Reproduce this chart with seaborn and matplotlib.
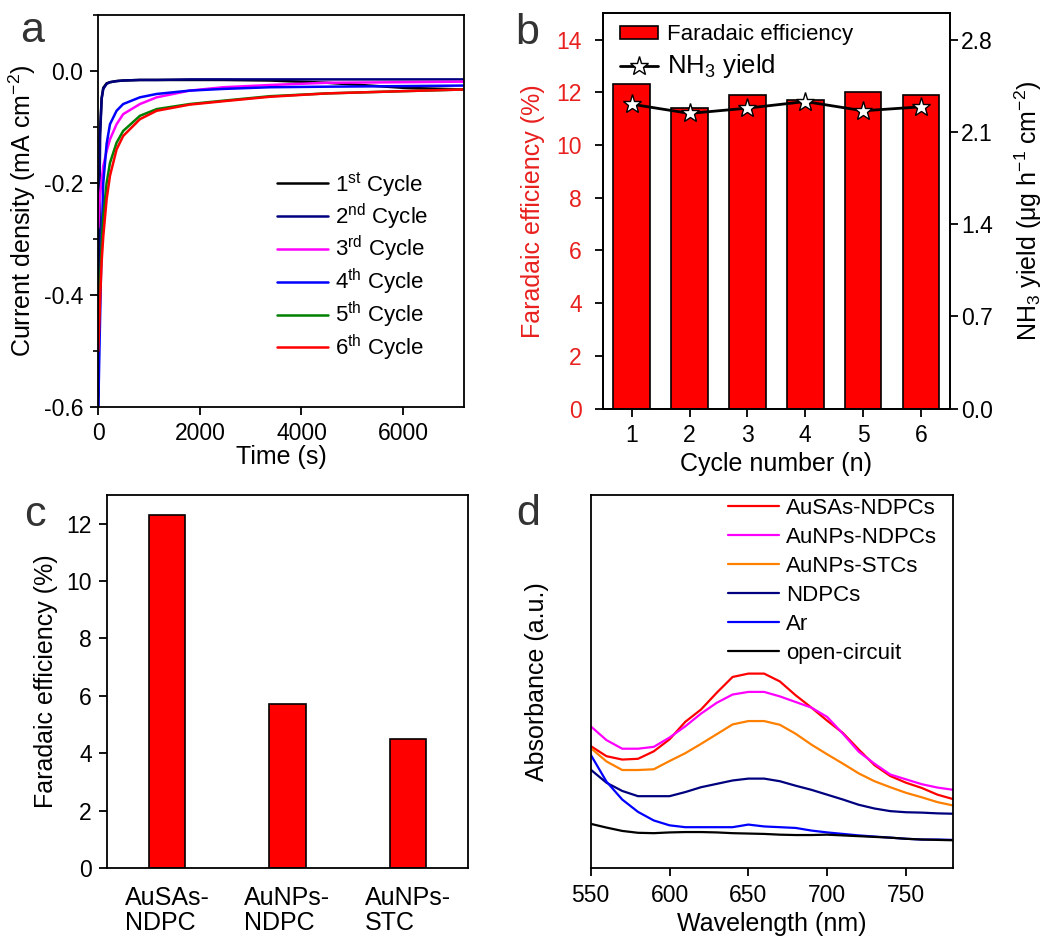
import matplotlib
matplotlib.use('Agg')
import matplotlib.pyplot as plt
import seaborn as sns
from matplotlib.ticker import MultipleLocator

# ---------------- data ----------------
# panel a: current density vs time for six cycles
time_s = [0, 33, 66, 98, 164, 230, 360, 490, 820, 1150, 1800, 2460, 3380, 4500, 6000, 7200]
j_cycle1 = [-0.58, -0.11, -0.048, -0.030, -0.022, -0.020, -0.018, -0.017, -0.016, -0.016, -0.016, -0.016, -0.017, -0.021, -0.030, -0.033]
j_cycle2 = [-0.60, -0.12, -0.050, -0.032, -0.023, -0.020, -0.018, -0.017, -0.016, -0.016, -0.015, -0.015, -0.015, -0.015, -0.015, -0.015]
j_cycle3 = [-0.28, -0.223, -0.195, -0.170, -0.143, -0.122, -0.095, -0.077, -0.059, -0.047, -0.035, -0.029, -0.025, -0.021, -0.020, -0.019]
j_cycle4 = [-0.60, -0.45, -0.30, -0.20, -0.13, -0.095, -0.071, -0.059, -0.047, -0.041, -0.035, -0.032, -0.029, -0.028, -0.027, -0.026]
j_cycle5 = [-0.47, -0.384, -0.31, -0.259, -0.200, -0.164, -0.128, -0.107, -0.080, -0.068, -0.059, -0.053, -0.045, -0.040, -0.036, -0.033]
j_cycle6 = [-0.50, -0.414, -0.34, -0.295, -0.229, -0.187, -0.140, -0.116, -0.086, -0.071, -0.060, -0.054, -0.046, -0.040, -0.036, -0.033]
cycle_labels = [r'1$^{\rm st}$ Cycle', r'2$^{\rm nd}$ Cycle', r'3$^{\rm rd}$ Cycle',
                r'4$^{\rm th}$ Cycle', r'5$^{\rm th}$ Cycle', r'6$^{\rm th}$ Cycle']
cycle_colors = ['#000000', '#00007F', '#FF00FF', '#0000FF', '#008000', '#FF0000']

# panel b: cycling stability
cycle_numbers = [1, 2, 3, 4, 5, 6]
fe_cycles = [12.3, 11.4, 11.9, 11.7, 12.0, 11.9]
nh3_yield = [2.31, 2.24, 2.28, 2.33, 2.26, 2.29]

# panel c: catalysts comparison
catalysts = ['AuSAs-\nNDPC', 'AuNPs-\nNDPC', 'AuNPs-\nSTC']
fe_catalysts = [12.3, 5.7, 4.5]

# panel d: UV-vis absorbance
wavelength = [550, 560, 570, 580, 590, 600, 610, 620, 630, 640, 650, 660,
              670, 680, 690, 700, 710, 720, 730, 740, 750, 760, 770, 780]
abs_ausas_ndpcs = [0.327, 0.300, 0.291, 0.293, 0.313, 0.345, 0.392, 0.425, 0.470, 0.512, 0.521, 0.521,
                   0.500, 0.463, 0.430, 0.395, 0.362, 0.318, 0.276, 0.247, 0.229, 0.215, 0.197, 0.185]
abs_aunps_ndpcs = [0.380, 0.343, 0.320, 0.320, 0.325, 0.350, 0.380, 0.414, 0.443, 0.465, 0.472, 0.472,
                   0.460, 0.445, 0.430, 0.405, 0.360, 0.312, 0.280, 0.251, 0.238, 0.225, 0.216, 0.210]
abs_aunps_stcs = [0.322, 0.286, 0.263, 0.263, 0.265, 0.287, 0.308, 0.333, 0.359, 0.385, 0.394, 0.394,
                  0.384, 0.360, 0.331, 0.305, 0.280, 0.254, 0.233, 0.217, 0.202, 0.190, 0.177, 0.168]
abs_ndpcs = [0.264, 0.229, 0.207, 0.193, 0.193, 0.193, 0.204, 0.217, 0.226, 0.235, 0.240, 0.240,
             0.233, 0.221, 0.210, 0.197, 0.184, 0.170, 0.160, 0.153, 0.150, 0.149, 0.147, 0.146]
abs_ar = [0.304, 0.232, 0.184, 0.151, 0.128, 0.115, 0.110, 0.110, 0.110, 0.110, 0.117, 0.112,
          0.110, 0.108, 0.101, 0.096, 0.092, 0.088, 0.085, 0.082, 0.079, 0.077, 0.077, 0.076]
abs_open = [0.119, 0.109, 0.100, 0.095, 0.094, 0.096, 0.097, 0.097, 0.096, 0.094, 0.093, 0.092,
            0.090, 0.089, 0.089, 0.090, 0.088, 0.086, 0.084, 0.082, 0.079, 0.077, 0.076, 0.075]
uv_labels = ['AuSAs-NDPCs', 'AuNPs-NDPCs', 'AuNPs-STCs', 'NDPCs', 'Ar', 'open-circuit']
uv_colors = ['#FF0000', '#FF00FF', '#FF8000', '#00007F', '#0000FF', '#000000']

# ---------------- style ----------------
sns.set_style('ticks')
plt.rcParams['font.family'] = ['Liberation Sans', 'DejaVu Sans']
plt.rcParams['mathtext.fontset'] = 'custom'
plt.rcParams['mathtext.rm'] = 'Liberation Sans'
plt.rcParams['mathtext.it'] = 'Liberation Sans:italic'
plt.rcParams['mathtext.bf'] = 'Liberation Sans:bold'
plt.rcParams['axes.linewidth'] = 1.3
plt.rcParams['axes.edgecolor'] = 'black'
plt.rcParams['axes.unicode_minus'] = False
for key in ['text.color', 'axes.labelcolor', 'xtick.color', 'ytick.color']:
    plt.rcParams[key] = 'black'

TICK = 16.5
LAB = 18
LEG = 16
RED_TXT = '#E8201E'

fig = plt.figure(figsize=(10.64, 9.51), dpi=100)
W, H = 1064, 951


def add_ax(l, r, t, b):
    return fig.add_axes([l / W, 1 - b / H, (r - l) / W, (b - t) / H])


def style_ticks(ax):
    ax.tick_params(axis='both', which='major', direction='out', length=6, width=1.3,
                   pad=5, labelsize=TICK, colors='black')
    ax.tick_params(axis='both', which='minor', direction='out', length=3.5, width=1.2)
    for s in ax.spines.values():
        s.set_visible(True)
        s.set_linewidth(1.3)
        s.set_color('black')


# ---------------- panel a ----------------
ax_a = add_ax(98.3, 464, 15, 407)
series_a = [j_cycle1, j_cycle2, j_cycle3, j_cycle4, j_cycle5, j_cycle6]
for vals, lab, col in zip(series_a, cycle_labels, cycle_colors):
    sns.lineplot(x=time_s, y=vals, color=col, lw=1.8, label=lab, ax=ax_a)
ax_a.set_xlim(0, 7200)
ax_a.set_ylim(-0.6, 0.1)
ax_a.set_xticks([0, 2000, 4000, 6000])
ax_a.set_yticks([-0.6, -0.4, -0.2, 0.0])
ax_a.yaxis.set_minor_locator(MultipleLocator(0.1))
style_ticks(ax_a)
ax_a.set_xlabel('Time (s)', fontsize=LAB, labelpad=0)
ax_a.set_ylabel(r'Current density (mA cm$^{-2}$)', fontsize=LAB, labelpad=4)
ax_a.legend(loc='upper left', bbox_to_anchor=(0.489, 0.605), frameon=False, fontsize=LEG,
            handlelength=2.3, handletextpad=0.3, labelspacing=0.12, borderpad=0, borderaxespad=0)

# ---------------- panel b ----------------
ax_b = add_ax(602.7, 950, 13.3, 408.5)
sns.barplot(x=cycle_numbers, y=fe_cycles, native_scale=True, width=0.63, color='#FF0000',
            saturation=1, edgecolor='black', linewidth=1.2, errorbar=None, ax=ax_b)
ax_b.set_xlim(0.5, 6.5)
ax_b.set_ylim(0, 15)
ax_b.set_xticks(cycle_numbers)
ax_b.set_xticklabels([str(c) for c in cycle_numbers])
ax_b.set_yticks([0, 2, 4, 6, 8, 10, 12, 14])
style_ticks(ax_b)
ax_b.tick_params(axis='y', labelcolor=RED_TXT, pad=9)
ax_b.set_xlabel('Cycle number (n)', fontsize=LAB, labelpad=4)
ax_b.set_ylabel('Faradaic efficiency (%)', fontsize=LAB, color=RED_TXT, labelpad=8)

ax_b2 = ax_b.twinx()
sns.lineplot(x=cycle_numbers, y=nh3_yield, color='black', lw=2, marker='*', markersize=14,
             markerfacecolor='white', markeredgecolor='black', markeredgewidth=1.0, ax=ax_b2)
ax_b2.set_ylim(0, 3.0)
ax_b2.set_yticks([0.0, 0.7, 1.4, 2.1, 2.8])
ax_b2.set_yticklabels(['0.0', '0.7', '1.4', '2.1', '2.8'])
style_ticks(ax_b2)
ax_b2.tick_params(axis='y', pad=2)
ax_b2.set_ylabel(r'NH$_3$ yield (μg h$^{-1}$ cm$^{-2}$)', fontsize=LAB, labelpad=14)
ax_b2.set_xlim(0.5, 6.5)

bar_handle = matplotlib.patches.Patch(facecolor='#FF0000', edgecolor='black', linewidth=1.2)
line_handle = matplotlib.lines.Line2D([], [], color='black', lw=2, marker='*', markersize=14,
                                      markerfacecolor='white', markeredgecolor='black')
if ax_b2.get_legend() is not None:
    ax_b2.get_legend().remove()
leg_b = ax_b2.legend([bar_handle, line_handle], ['Faradaic efficiency', r'NH$_3$ yield'],
                     loc='upper left', bbox_to_anchor=(0.05, 0.972), frameon=False, fontsize=LEG,
                     handlelength=1.7, handleheight=0.55, handletextpad=0.4, labelspacing=0.3,
                     borderpad=0, borderaxespad=0)
leg_b.get_texts()[1].set_fontsize(18.5)

# ---------------- panel c ----------------
ax_c = add_ax(107, 468, 495, 868)
sns.barplot(x=catalysts, y=fe_catalysts, width=0.3, color='#FF0000', saturation=1,
            edgecolor='black', linewidth=1.2, errorbar=None, ax=ax_c)
ax_c.set_xlim(-0.5, 2.5)
ax_c.set_ylim(0, 13)
ax_c.set_yticks([0, 2, 4, 6, 8, 10, 12])
style_ticks(ax_c)
ax_c.tick_params(axis='x', length=0, pad=13, labelsize=LAB)
for t in ax_c.get_xticklabels():
    t.set_horizontalalignment('center')
    t.set_multialignment('left')
    t.set_linespacing(1.05)
ax_c.set_xlabel('')
ax_c.set_ylabel('Faradaic efficiency (%)', fontsize=LAB, labelpad=6)

# ---------------- panel d ----------------
ax_d = add_ax(590.7, 953.3, 494.6, 868.3)
series_d = [abs_ausas_ndpcs, abs_aunps_ndpcs, abs_aunps_stcs, abs_ndpcs, abs_ar, abs_open]
for vals, lab, col in zip(series_d, uv_labels, uv_colors):
    sns.lineplot(x=wavelength, y=vals, color=col, lw=1.6, label=lab, ax=ax_d)
ax_d.set_xlim(550, 780)
ax_d.set_ylim(0, 1)
ax_d.set_xticks([550, 600, 650, 700, 750])
ax_d.set_yticks([])
style_ticks(ax_d)
ax_d.set_xlabel('Wavelength (nm)', fontsize=LAB, labelpad=4)
ax_d.set_ylabel('Absorbance (a.u.)', fontsize=LAB, labelpad=30)
ax_d.legend(loc='upper left', bbox_to_anchor=(0.379, 0.992), frameon=False, fontsize=LEG,
            handlelength=2.3, handletextpad=0.3, labelspacing=0.36, borderpad=0, borderaxespad=0)

# ---------------- panel letters ----------------
for letter, (px, py) in zip('abcd', [(32, 31), (527, 33), (35, 515), (528, 514)]):
    fig.text(px / W, 1 - py / H, letter, fontsize=31, color='#333333', ha='center', va='center')

fig.savefig('out.png', dpi=100)
